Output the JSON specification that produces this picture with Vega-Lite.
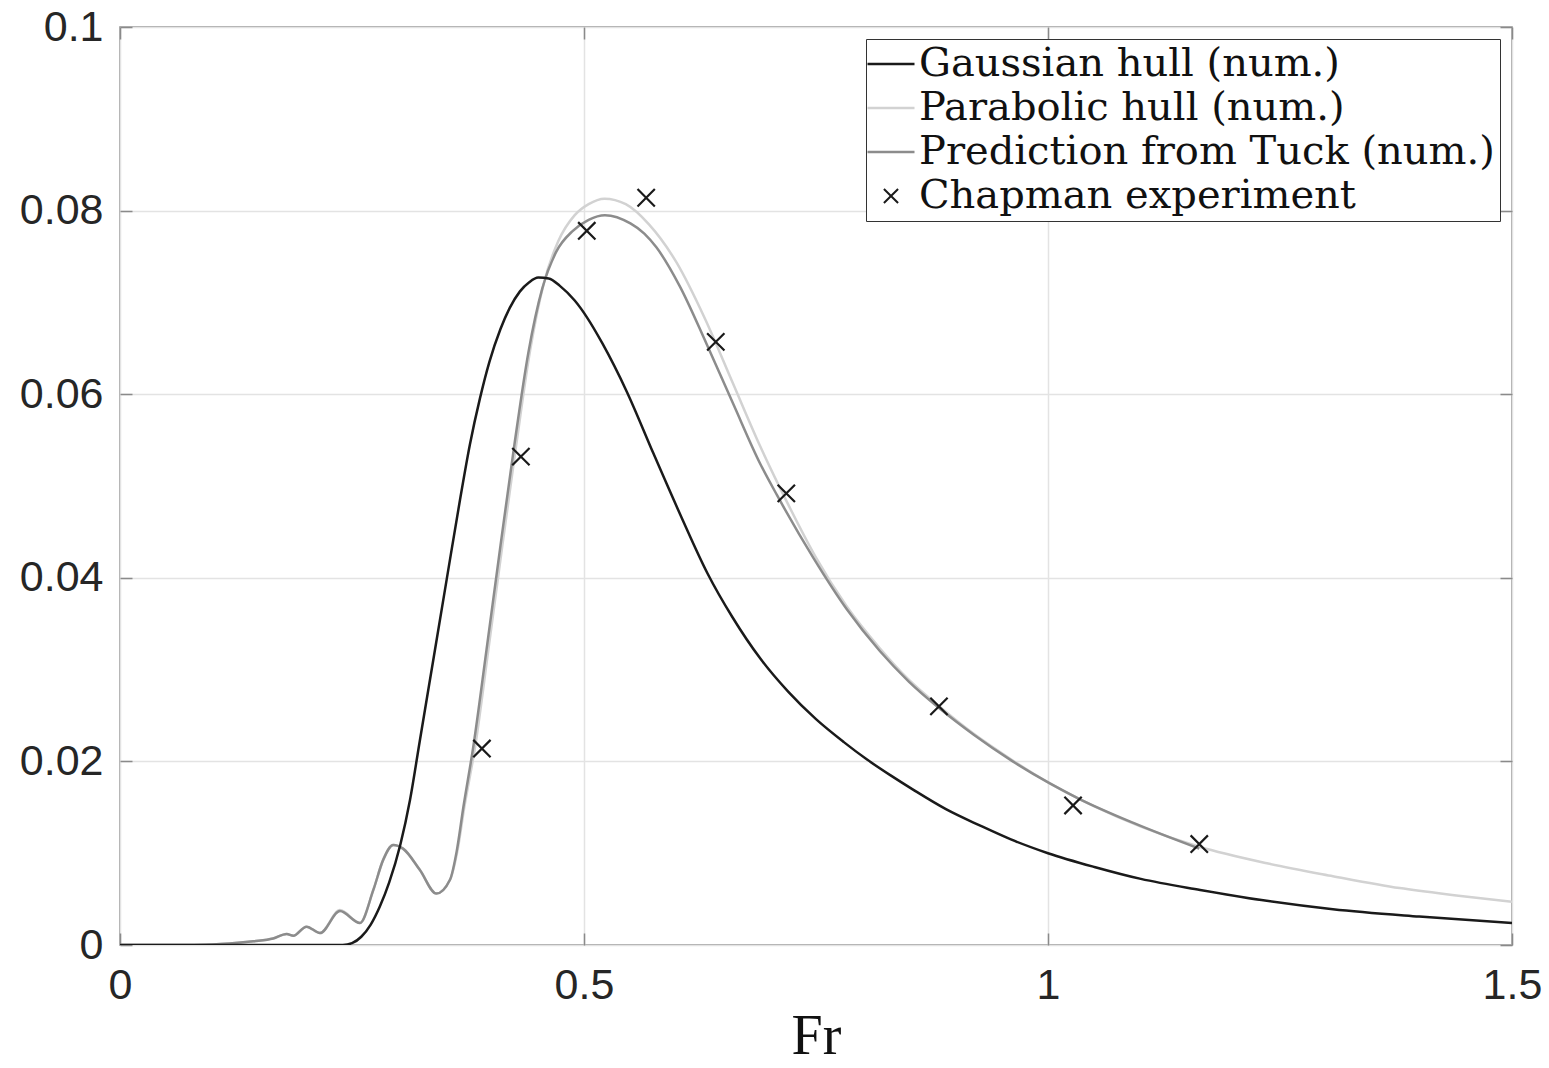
{
  "$schema": "https://vega.github.io/schema/vega-lite/v6.json",
  "autosize": "none",
  "width": 1392,
  "height": 918,
  "padding": {"left": 120, "top": 27, "right": 37, "bottom": 123},
  "background": "white",
  "config": {
    "view": {"stroke": "#8a8a8a", "strokeWidth": 1.5},
    "axis": {
      "labelFont": "Liberation Sans",
      "labelFontSize": 43,
      "labelColor": "#262626",
      "labelFlush": false,
      "gridColor": "#e3e3e3",
      "gridWidth": 1.5,
      "domain": false,
      "tickColor": "#8a8a8a",
      "tickWidth": 1.5,
      "tickSize": -12
    }
  },
  "resolve": {"axis": {"x": "independent", "y": "independent"}},
  "datasets": {
    "curves": [
      {"series": "Gaussian hull (num.)", "Fr": 0, "v": 0},
      {"series": "Gaussian hull (num.)", "Fr": 0.2, "v": 0},
      {"series": "Gaussian hull (num.)", "Fr": 0.24, "v": 0},
      {"series": "Gaussian hull (num.)", "Fr": 0.25, "v": 0.0002},
      {"series": "Gaussian hull (num.)", "Fr": 0.26, "v": 0.0009},
      {"series": "Gaussian hull (num.)", "Fr": 0.27, "v": 0.0022},
      {"series": "Gaussian hull (num.)", "Fr": 0.28, "v": 0.0042},
      {"series": "Gaussian hull (num.)", "Fr": 0.29, "v": 0.0068},
      {"series": "Gaussian hull (num.)", "Fr": 0.302, "v": 0.0109},
      {"series": "Gaussian hull (num.)", "Fr": 0.3125, "v": 0.0158},
      {"series": "Gaussian hull (num.)", "Fr": 0.323, "v": 0.0222},
      {"series": "Gaussian hull (num.)", "Fr": 0.337, "v": 0.0307},
      {"series": "Gaussian hull (num.)", "Fr": 0.352, "v": 0.0398},
      {"series": "Gaussian hull (num.)", "Fr": 0.3664, "v": 0.0485},
      {"series": "Gaussian hull (num.)", "Fr": 0.377, "v": 0.0545},
      {"series": "Gaussian hull (num.)", "Fr": 0.388, "v": 0.0596},
      {"series": "Gaussian hull (num.)", "Fr": 0.398, "v": 0.0635},
      {"series": "Gaussian hull (num.)", "Fr": 0.41, "v": 0.0671},
      {"series": "Gaussian hull (num.)", "Fr": 0.42, "v": 0.0694},
      {"series": "Gaussian hull (num.)", "Fr": 0.431, "v": 0.0712},
      {"series": "Gaussian hull (num.)", "Fr": 0.441, "v": 0.0722},
      {"series": "Gaussian hull (num.)", "Fr": 0.4507, "v": 0.0727},
      {"series": "Gaussian hull (num.)", "Fr": 0.462, "v": 0.0726},
      {"series": "Gaussian hull (num.)", "Fr": 0.474, "v": 0.0718},
      {"series": "Gaussian hull (num.)", "Fr": 0.49, "v": 0.0702},
      {"series": "Gaussian hull (num.)", "Fr": 0.503, "v": 0.0684},
      {"series": "Gaussian hull (num.)", "Fr": 0.52, "v": 0.0655},
      {"series": "Gaussian hull (num.)", "Fr": 0.546, "v": 0.0603},
      {"series": "Gaussian hull (num.)", "Fr": 0.575, "v": 0.0535},
      {"series": "Gaussian hull (num.)", "Fr": 0.605, "v": 0.0466},
      {"series": "Gaussian hull (num.)", "Fr": 0.633, "v": 0.0405},
      {"series": "Gaussian hull (num.)", "Fr": 0.66, "v": 0.0357},
      {"series": "Gaussian hull (num.)", "Fr": 0.69, "v": 0.0312},
      {"series": "Gaussian hull (num.)", "Fr": 0.72, "v": 0.0276},
      {"series": "Gaussian hull (num.)", "Fr": 0.75, "v": 0.0246},
      {"series": "Gaussian hull (num.)", "Fr": 0.78, "v": 0.0221},
      {"series": "Gaussian hull (num.)", "Fr": 0.805, "v": 0.0202},
      {"series": "Gaussian hull (num.)", "Fr": 0.83, "v": 0.0185},
      {"series": "Gaussian hull (num.)", "Fr": 0.855, "v": 0.0169},
      {"series": "Gaussian hull (num.)", "Fr": 0.89, "v": 0.0148},
      {"series": "Gaussian hull (num.)", "Fr": 0.927, "v": 0.013},
      {"series": "Gaussian hull (num.)", "Fr": 0.96, "v": 0.0115},
      {"series": "Gaussian hull (num.)", "Fr": 1.0, "v": 0.01},
      {"series": "Gaussian hull (num.)", "Fr": 1.05, "v": 0.0085},
      {"series": "Gaussian hull (num.)", "Fr": 1.1, "v": 0.0072},
      {"series": "Gaussian hull (num.)", "Fr": 1.164, "v": 0.006},
      {"series": "Gaussian hull (num.)", "Fr": 1.23, "v": 0.0049},
      {"series": "Gaussian hull (num.)", "Fr": 1.307, "v": 0.0039},
      {"series": "Gaussian hull (num.)", "Fr": 1.4, "v": 0.0031},
      {"series": "Gaussian hull (num.)", "Fr": 1.5, "v": 0.0024},

      {"series": "Parabolic hull (num.)", "Fr": 0, "v": 0},
      {"series": "Parabolic hull (num.)", "Fr": 0.08, "v": 0},
      {"series": "Parabolic hull (num.)", "Fr": 0.108, "v": 0.0001},
      {"series": "Parabolic hull (num.)", "Fr": 0.1437, "v": 0.0004},
      {"series": "Parabolic hull (num.)", "Fr": 0.165, "v": 0.0007},
      {"series": "Parabolic hull (num.)", "Fr": 0.1796, "v": 0.0012},
      {"series": "Parabolic hull (num.)", "Fr": 0.1868, "v": 0.001},
      {"series": "Parabolic hull (num.)", "Fr": 0.201, "v": 0.002},
      {"series": "Parabolic hull (num.)", "Fr": 0.2155, "v": 0.0013},
      {"series": "Parabolic hull (num.)", "Fr": 0.237, "v": 0.0038},
      {"series": "Parabolic hull (num.)", "Fr": 0.2586, "v": 0.0024},
      {"series": "Parabolic hull (num.)", "Fr": 0.273, "v": 0.006},
      {"series": "Parabolic hull (num.)", "Fr": 0.2837, "v": 0.0093},
      {"series": "Parabolic hull (num.)", "Fr": 0.2945, "v": 0.0109},
      {"series": "Parabolic hull (num.)", "Fr": 0.305, "v": 0.0105},
      {"series": "Parabolic hull (num.)", "Fr": 0.323, "v": 0.0082},
      {"series": "Parabolic hull (num.)", "Fr": 0.341, "v": 0.0056},
      {"series": "Parabolic hull (num.)", "Fr": 0.3556, "v": 0.0071},
      {"series": "Parabolic hull (num.)", "Fr": 0.3635, "v": 0.0102},
      {"series": "Parabolic hull (num.)", "Fr": 0.371, "v": 0.015},
      {"series": "Parabolic hull (num.)", "Fr": 0.383, "v": 0.0218},
      {"series": "Parabolic hull (num.)", "Fr": 0.397, "v": 0.0322},
      {"series": "Parabolic hull (num.)", "Fr": 0.412, "v": 0.0435},
      {"series": "Parabolic hull (num.)", "Fr": 0.427, "v": 0.0545},
      {"series": "Parabolic hull (num.)", "Fr": 0.442, "v": 0.0648},
      {"series": "Parabolic hull (num.)", "Fr": 0.457, "v": 0.0722},
      {"series": "Parabolic hull (num.)", "Fr": 0.472, "v": 0.0766},
      {"series": "Parabolic hull (num.)", "Fr": 0.49, "v": 0.0795},
      {"series": "Parabolic hull (num.)", "Fr": 0.505, "v": 0.0807},
      {"series": "Parabolic hull (num.)", "Fr": 0.522, "v": 0.0813},
      {"series": "Parabolic hull (num.)", "Fr": 0.545, "v": 0.0807},
      {"series": "Parabolic hull (num.)", "Fr": 0.57, "v": 0.0785},
      {"series": "Parabolic hull (num.)", "Fr": 0.6, "v": 0.0743},
      {"series": "Parabolic hull (num.)", "Fr": 0.63, "v": 0.0683},
      {"series": "Parabolic hull (num.)", "Fr": 0.66, "v": 0.0613},
      {"series": "Parabolic hull (num.)", "Fr": 0.69, "v": 0.0543},
      {"series": "Parabolic hull (num.)", "Fr": 0.72, "v": 0.048},
      {"series": "Parabolic hull (num.)", "Fr": 0.75, "v": 0.0422},
      {"series": "Parabolic hull (num.)", "Fr": 0.783, "v": 0.0369},
      {"series": "Parabolic hull (num.)", "Fr": 0.819, "v": 0.0323},
      {"series": "Parabolic hull (num.)", "Fr": 0.85, "v": 0.0289},
      {"series": "Parabolic hull (num.)", "Fr": 0.884, "v": 0.0259},
      {"series": "Parabolic hull (num.)", "Fr": 0.92, "v": 0.023},
      {"series": "Parabolic hull (num.)", "Fr": 0.962, "v": 0.0201},
      {"series": "Parabolic hull (num.)", "Fr": 1.002, "v": 0.0176},
      {"series": "Parabolic hull (num.)", "Fr": 1.05, "v": 0.0151},
      {"series": "Parabolic hull (num.)", "Fr": 1.1, "v": 0.0129},
      {"series": "Parabolic hull (num.)", "Fr": 1.163, "v": 0.0107},
      {"series": "Parabolic hull (num.)", "Fr": 1.236, "v": 0.0089},
      {"series": "Parabolic hull (num.)", "Fr": 1.307, "v": 0.0075},
      {"series": "Parabolic hull (num.)", "Fr": 1.379, "v": 0.0062},
      {"series": "Parabolic hull (num.)", "Fr": 1.44, "v": 0.0054},
      {"series": "Parabolic hull (num.)", "Fr": 1.5, "v": 0.0047},

      {"series": "Prediction from Tuck (num.)", "Fr": 0, "v": 0},
      {"series": "Prediction from Tuck (num.)", "Fr": 0.08, "v": 0},
      {"series": "Prediction from Tuck (num.)", "Fr": 0.108, "v": 0.0001},
      {"series": "Prediction from Tuck (num.)", "Fr": 0.1437, "v": 0.0004},
      {"series": "Prediction from Tuck (num.)", "Fr": 0.165, "v": 0.0007},
      {"series": "Prediction from Tuck (num.)", "Fr": 0.1796, "v": 0.0012},
      {"series": "Prediction from Tuck (num.)", "Fr": 0.1868, "v": 0.001},
      {"series": "Prediction from Tuck (num.)", "Fr": 0.201, "v": 0.002},
      {"series": "Prediction from Tuck (num.)", "Fr": 0.2155, "v": 0.0013},
      {"series": "Prediction from Tuck (num.)", "Fr": 0.237, "v": 0.0037},
      {"series": "Prediction from Tuck (num.)", "Fr": 0.2586, "v": 0.0024},
      {"series": "Prediction from Tuck (num.)", "Fr": 0.273, "v": 0.006},
      {"series": "Prediction from Tuck (num.)", "Fr": 0.2837, "v": 0.0093},
      {"series": "Prediction from Tuck (num.)", "Fr": 0.2945, "v": 0.0109},
      {"series": "Prediction from Tuck (num.)", "Fr": 0.305, "v": 0.0105},
      {"series": "Prediction from Tuck (num.)", "Fr": 0.323, "v": 0.0082},
      {"series": "Prediction from Tuck (num.)", "Fr": 0.341, "v": 0.0056},
      {"series": "Prediction from Tuck (num.)", "Fr": 0.3556, "v": 0.0071},
      {"series": "Prediction from Tuck (num.)", "Fr": 0.3628, "v": 0.0102},
      {"series": "Prediction from Tuck (num.)", "Fr": 0.37, "v": 0.015},
      {"series": "Prediction from Tuck (num.)", "Fr": 0.381, "v": 0.0218},
      {"series": "Prediction from Tuck (num.)", "Fr": 0.395, "v": 0.0322},
      {"series": "Prediction from Tuck (num.)", "Fr": 0.41, "v": 0.0435},
      {"series": "Prediction from Tuck (num.)", "Fr": 0.425, "v": 0.0545},
      {"series": "Prediction from Tuck (num.)", "Fr": 0.44, "v": 0.0645},
      {"series": "Prediction from Tuck (num.)", "Fr": 0.455, "v": 0.0715},
      {"series": "Prediction from Tuck (num.)", "Fr": 0.47, "v": 0.0755},
      {"series": "Prediction from Tuck (num.)", "Fr": 0.488, "v": 0.0778},
      {"series": "Prediction from Tuck (num.)", "Fr": 0.505, "v": 0.079},
      {"series": "Prediction from Tuck (num.)", "Fr": 0.5226, "v": 0.0795},
      {"series": "Prediction from Tuck (num.)", "Fr": 0.55, "v": 0.0786},
      {"series": "Prediction from Tuck (num.)", "Fr": 0.565, "v": 0.0775},
      {"series": "Prediction from Tuck (num.)", "Fr": 0.578, "v": 0.076},
      {"series": "Prediction from Tuck (num.)", "Fr": 0.603, "v": 0.0718},
      {"series": "Prediction from Tuck (num.)", "Fr": 0.632, "v": 0.0655},
      {"series": "Prediction from Tuck (num.)", "Fr": 0.661, "v": 0.0589},
      {"series": "Prediction from Tuck (num.)", "Fr": 0.69, "v": 0.0524},
      {"series": "Prediction from Tuck (num.)", "Fr": 0.708, "v": 0.049},
      {"series": "Prediction from Tuck (num.)", "Fr": 0.747, "v": 0.0422},
      {"series": "Prediction from Tuck (num.)", "Fr": 0.783, "v": 0.0366},
      {"series": "Prediction from Tuck (num.)", "Fr": 0.819, "v": 0.032},
      {"series": "Prediction from Tuck (num.)", "Fr": 0.85, "v": 0.0287},
      {"series": "Prediction from Tuck (num.)", "Fr": 0.884, "v": 0.0257},
      {"series": "Prediction from Tuck (num.)", "Fr": 0.92, "v": 0.0229},
      {"series": "Prediction from Tuck (num.)", "Fr": 0.962, "v": 0.02},
      {"series": "Prediction from Tuck (num.)", "Fr": 1.002, "v": 0.0176},
      {"series": "Prediction from Tuck (num.)", "Fr": 1.034, "v": 0.0159},
      {"series": "Prediction from Tuck (num.)", "Fr": 1.092, "v": 0.0133},
      {"series": "Prediction from Tuck (num.)", "Fr": 1.163, "v": 0.0105}
    ],
    "chapman": [
      {"series": "Chapman experiment", "Fr": 0.39, "v": 0.0214},
      {"series": "Chapman experiment", "Fr": 0.432, "v": 0.0532},
      {"series": "Chapman experiment", "Fr": 0.503, "v": 0.0778},
      {"series": "Chapman experiment", "Fr": 0.567, "v": 0.0814},
      {"series": "Chapman experiment", "Fr": 0.642, "v": 0.0657},
      {"series": "Chapman experiment", "Fr": 0.718, "v": 0.0492},
      {"series": "Chapman experiment", "Fr": 0.8825, "v": 0.026},
      {"series": "Chapman experiment", "Fr": 1.027, "v": 0.0152},
      {"series": "Chapman experiment", "Fr": 1.163, "v": 0.011}
    ]
  },
  "encoding": {
    "x": {
      "field": "Fr", "type": "quantitative",
      "scale": {"domain": [0, 1.5], "nice": false},
      "axis": null
    },
    "y": {
      "field": "v", "type": "quantitative",
      "scale": {"domain": [0, 0.1], "nice": false},
      "axis": null
    },
    "color": {
      "field": "series", "type": "nominal",
      "scale": {
        "domain": ["Gaussian hull (num.)", "Parabolic hull (num.)", "Prediction from Tuck (num.)", "Chapman experiment"],
        "range": ["#1a1a1a", "#d2d2d2", "#8c8c8c", "#1a1a1a"]
      },
      "legend": {
        "title": null,
        "orient": "top-right",
        "offset": 12,
        "fillColor": "white",
        "strokeColor": "#333333",
        "padding": 5,
        "labelFont": "DejaVu Serif",
        "labelFontSize": 40,
        "labelColor": "#111111",
        "labelOffset": 8,
        "labelLimit": 900,
        "rowPadding": 4,
        "symbolSize": 2209,
        "symbolStrokeWidth": 2.5,
        "encode": {
          "symbols": {
            "update": {
              "shape": {"signal": "datum.value === 'Chapman experiment' ? 'M-1,-1L1,1M-1,1L1,-1' : 'stroke'"},
              "size": {"signal": "datum.value === 'Chapman experiment' ? 200 : 2209"},
              "fill": {"value": "transparent"},
              "stroke": {"scale": "color", "field": "value"},
              "strokeWidth": {"signal": "datum.value === 'Chapman experiment' ? 2 : 2.5"}
            }
          }
        }
      }
    }
  },
  "layer": [
    {
      "data": {"name": "curves"},
      "transform": [{"filter": "datum.series === 'Parabolic hull (num.)'"}],
      "mark": {"type": "line", "strokeWidth": 2.5, "interpolate": "monotone", "clip": true},
      "encoding": {
        "x": {
          "field": "Fr", "type": "quantitative",
          "scale": {"domain": [0, 1.5], "nice": false},
          "axis": {
            "orient": "bottom",
            "values": [0, 0.5, 1, 1.5], "format": "~g", "title": "Fr",
            "titleFont": "Liberation Serif", "titleFontSize": 56, "titleFontWeight": "normal",
            "titleColor": "#111111", "labelPadding": 31, "titlePadding": 2
          }
        },
        "y": {
          "field": "v", "type": "quantitative",
          "scale": {"domain": [0, 0.1], "nice": false},
          "axis": {
            "orient": "left",
            "values": [0, 0.02, 0.04, 0.06, 0.08, 0.1], "format": "~g", "title": null,
            "labelPadding": 29
          }
        }
      }
    },
    {
      "data": {"name": "curves"},
      "transform": [{"filter": "datum.series === 'Prediction from Tuck (num.)'"}],
      "mark": {"type": "line", "strokeWidth": 2.5, "interpolate": "monotone", "clip": true}
    },
    {
      "data": {"name": "curves"},
      "transform": [{"filter": "datum.series === 'Gaussian hull (num.)'"}],
      "mark": {"type": "line", "strokeWidth": 2.5, "interpolate": "monotone", "clip": true}
    },
    {
      "data": {"name": "chapman"},
      "mark": {"type": "point", "shape": "M-1,-1L1,1M-1,1L1,-1", "filled": false, "size": 300, "strokeWidth": 2.2, "opacity": 1},
      "encoding": {
        "x": {
          "field": "Fr", "type": "quantitative",
          "scale": {"domain": [0, 1.5], "nice": false},
          "axis": {"orient": "top", "values": [0, 0.5, 1, 1.5], "labels": false, "grid": false, "title": null}
        },
        "y": {
          "field": "v", "type": "quantitative",
          "scale": {"domain": [0, 0.1], "nice": false},
          "axis": {"orient": "right", "values": [0, 0.02, 0.04, 0.06, 0.08, 0.1], "labels": false, "grid": false, "title": null}
        }
      }
    }
  ]
}
